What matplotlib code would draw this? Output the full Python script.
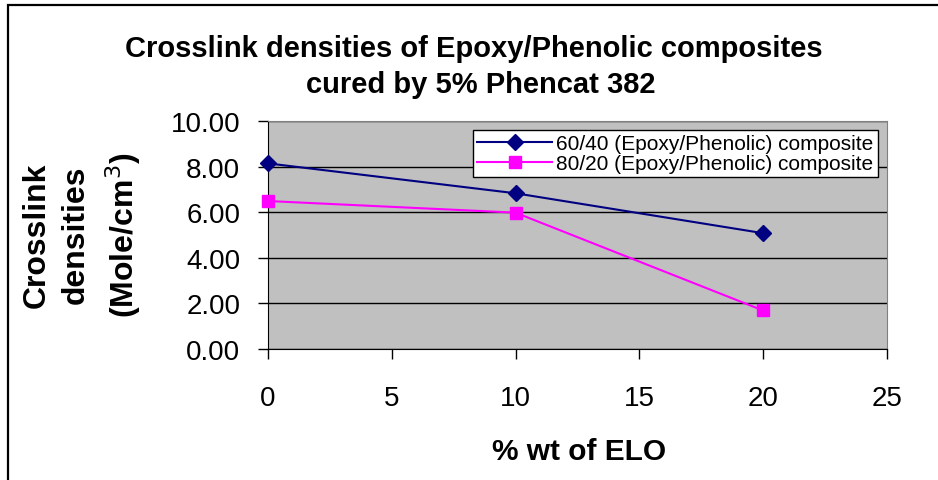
import numpy as np
import matplotlib.pyplot as plt
from matplotlib.patches import Rectangle

plt.rcParams['font.family'] = ['Liberation Sans', 'DejaVu Sans']

# data
elo_wt = [0, 10, 20]
dens_60_40 = [8.14, 6.83, 5.08]
dens_80_20 = [6.49, 5.98, 1.69]
labels = ["60/40 (Epoxy/Phenolic) composite", "80/20 (Epoxy/Phenolic) composite"]
x_ticks = [0, 5, 10, 15, 20, 25]
y_ticks = [0, 2, 4, 6, 8, 10]

fig = plt.figure(figsize=(9.38, 4.81), dpi=100)
ax = fig.add_axes([0.2857, 0.2723, 0.6598, 0.4741])

# outer chart frame (right and bottom edges fall outside the picture)
fig.patches.append(Rectangle((8 / 938, -0.1), 1.2, 1 - 6 / 481 + 0.1,
                             transform=fig.transFigure, fill=False,
                             edgecolor='black', linewidth=1.6))

ax.set_facecolor('#C0C0C0')
ax.plot(elo_wt, dens_60_40, color='#000080', marker='D', markersize=8,
        linewidth=1.5, label=labels[0], zorder=3, clip_on=False)
ax.plot(elo_wt, dens_80_20, color='#FF00FF', marker='s', markersize=8,
        linewidth=1.5, label=labels[1], zorder=3, clip_on=False)

ax.set_xlim(0, 25)
ax.set_ylim(0, 10)
ax.set_xticks(x_ticks)
ax.set_yticks(y_ticks)
ax.set_yticklabels(['%.2f' % v for v in y_ticks])
ax.grid(axis='y', color='black', linewidth=1)
ax.set_axisbelow(True)
ax.tick_params(axis='both', direction='out', length=7, width=1, labelsize=20,
               color='black')
ax.tick_params(axis='y', pad=13)
ax.tick_params(axis='x', pad=19)
for side in ['top', 'right']:
    ax.spines[side].set_color('#808080')
for side in ['left', 'bottom']:
    ax.spines[side].set_color('black')

leg = ax.legend(loc='upper right', bbox_to_anchor=(0.985, 0.96), fontsize=15,
                frameon=True, fancybox=False, edgecolor='black',
                framealpha=1, borderpad=0.2, labelspacing=0.05,
                handlelength=3.6, handletextpad=0.2, borderaxespad=0)
leg.get_frame().set_linewidth(1)

fig.text(0.505, 0.898, "Crosslink densities of Epoxy/Phenolic composites",
         ha='center', va='center', fontsize=21, fontweight='bold')
fig.text(0.512, 0.824, "cured by 5% Phencat 382",
         ha='center', va='center', fontsize=21, fontweight='bold')

fig.text(0.617, 0.06, "% wt of ELO", ha='center', va='center',
         fontsize=21.5, fontweight='bold')
fig.text(0.088, 0.511, "Crosslink\ndensities\n(Mole/cm$^3$)", ha='center',
         va='center', rotation=90, fontsize=23, fontweight='bold',
         linespacing=1.4, multialignment='center')

fig.savefig('out.png', dpi=100)
